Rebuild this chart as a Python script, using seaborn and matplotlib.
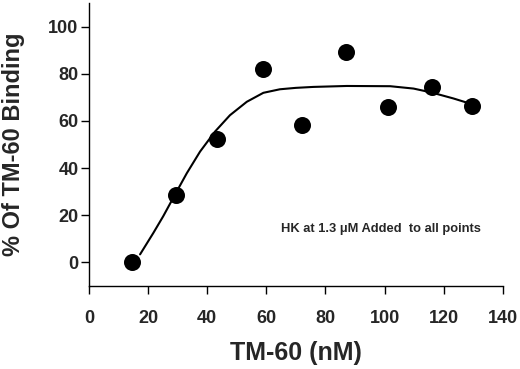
import numpy as np
import pandas as pd
import seaborn as sns
import matplotlib.pyplot as plt

tm60 = [14.5, 29.3, 43.2, 58.8, 72.0, 87.0, 101.1, 116.0, 129.7]
binding = [0.0, 28.7, 52.3, 81.9, 58.1, 89.2, 65.8, 74.3, 66.4]

# fitted curve
fit_x = [17.3, 21.8, 25.1, 29.1, 33.1, 37.6, 42.6, 47.7, 53.4, 59.0, 64.6,
         70.0, 75.9, 87.2, 101.9, 109.8, 116.0, 123.3, 130.0]
fit_y = [3.4, 12.5, 19.5, 28.7, 37.8, 47.0, 55.4, 62.4, 68.1, 71.9, 73.4,
         74.0, 74.4, 74.8, 74.7, 73.7, 72.0, 69.5, 66.9]

note = "HK at 1.3 \u03bcM Added  to all points"

sns.set_style("ticks")
plt.rcParams['font.family'] = ['Liberation Sans', 'DejaVu Sans']
plt.rcParams['font.weight'] = 'bold'

df = pd.DataFrame({'x': tm60, 'y': binding})
fit = pd.DataFrame({'x': fit_x, 'y': fit_y})

fig = plt.figure(figsize=(5.2, 3.69), dpi=100)
ax = fig.add_axes([0.171, 0.225, 0.796, 0.767])

sns.lineplot(data=fit, x='x', y='y', sort=False, estimator=None,
             color='black', linewidth=1.5, ax=ax)
sns.scatterplot(data=df, x='x', y='y', s=150, color='black',
                edgecolor='black', linewidth=0, ax=ax, zorder=3)

ax.set_xlim(0, 140)
ax.set_ylim(-10, 110)
ax.set_xticks(range(0, 141, 20))
ax.set_yticks(range(0, 101, 20))
ax.tick_params(axis='both', direction='out', length=6, width=1,
               labelsize=13, color='black')
ax.tick_params(axis='x', pad=11)
ax.tick_params(axis='y', pad=1.5)
for lab in ax.get_xticklabels() + ax.get_yticklabels():
    lab.set_fontweight('bold')

ax.set_xlabel("TM-60 (nM)", fontsize=18, fontweight='bold')
ax.set_ylabel("% Of TM-60 Binding", fontsize=17, fontweight='bold')
ax.xaxis.set_label_coords(0.5, -0.195)
ax.yaxis.set_label_coords(-0.155, 0.5)

ax.text(98.6, 14.3, note, fontsize=9.3, fontweight='bold', ha='center', va='center')

sns.despine(ax=ax)
for sp in ['left', 'bottom']:
    ax.spines[sp].set_linewidth(1)
    ax.spines[sp].set_color('black')

fig.savefig('out.png', dpi=100)
